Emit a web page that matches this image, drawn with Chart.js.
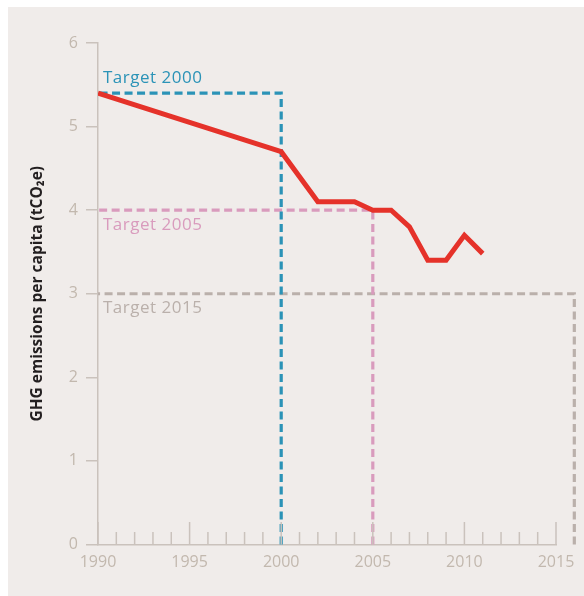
<!DOCTYPE html>
<html lang="en">
<head>
<meta charset="UTF-8">
<title>GHG emissions per capita</title>
<style>
  html, body { margin: 0; padding: 0; background: #fff; }
  #wrap { width: 584px; height: 596px; position: relative; }
</style>
</head>
<body>
<div id="wrap"><canvas id="ghgChart"></canvas></div>

<script src="https://cdn.jsdelivr.net/npm/chart.js"></script>
<script>
// data
const years = [1990, 2000, 2002, 2003, 2004, 2005, 2006, 2007, 2008, 2009, 2010, 2011];
const emissions = [5.4, 4.7, 4.1, 4.1, 4.1, 4.0, 4.0, 3.8, 3.4, 3.4, 3.7, 3.48];

const targetNames = ['Target 2000', 'Target 2005', 'Target 2015'];
const targetLevels = [5.4, 4.0, 3.0];
const targetYears = [2000, 2005, 2016];
const targetColors = ['#2b93b7', '#d99bbd', '#bab0ab'];

const xMin = 1990, xMax = 2015;
const yMin = 0, yMax = 6;

const axisColor = '#cac2bc';
const labelColor = '#c2b8ae';

Chart.defaults.font.family = "'Open Sans', sans-serif";

// panel background
const panelBg = {
    id: 'panelBg',
    beforeDraw(chart) {
        const c = chart.ctx;
        c.save();
        c.fillStyle = '#f0ecea';
        c.fillRect(8, 7, chart.width - 8, chart.height - 7);
        c.restore();
    }
};

// year ticks pointing up from the x axis
const yearTicks = {
    id: 'yearTicks',
    afterDraw(chart) {
        const c = chart.ctx, xs = chart.scales.x, bottom = chart.chartArea.bottom;
        c.save();
        c.strokeStyle = axisColor;
        c.lineWidth = 1.5;
        for (let yr = xMin; yr <= xMax; yr++) {
            const px = xs.getPixelForValue(yr);
            const len = yr % 5 === 0 ? 22.5 : 12.5;
            c.beginPath();
            c.moveTo(px, bottom);
            c.lineTo(px, bottom - len);
            c.stroke();
        }
        c.restore();
    }
};

// target names next to the dashed lines
const targetLabels = {
    id: 'targetLabels',
    afterDatasetsDraw(chart) {
        const c = chart.ctx, xs = chart.scales.x, ys = chart.scales.y;
        c.save();
        c.font = "17px 'Open Sans', sans-serif";
        c.letterSpacing = '0.5px';
        c.textAlign = 'left';
        c.textBaseline = 'alphabetic';
        for (let i = 0; i < targetNames.length; i++) {
            c.fillStyle = targetColors[i];
            const y = ys.getPixelForValue(targetLevels[i]) + (i === 0 ? -10.5 : 19.5);
            c.fillText(targetNames[i], xs.getPixelForValue(xMin) + 5, y);
        }
        c.restore();
    }
};

// points run from the foot of the drop line back to 1990,
// so the line controller does not cut the part past the axis max
const targetSets = targetNames.map((name, i) => ({
    label: name,
    data: [
        {x: targetYears[i], y: 0},
        {x: targetYears[i], y: targetLevels[i]},
        {x: xMin, y: targetLevels[i]}
    ],
    borderColor: targetColors[i],
    borderWidth: 3.2,
    borderDash: [8, 4.5],
    pointRadius: 0,
    clip: false,
    order: 2
}));

new Chart(document.getElementById('ghgChart'), {
    type: 'line',
    data: {
        datasets: [...targetSets, {
            label: 'GHG emissions per capita',
            data: years.map((x, i) => ({x: x, y: emissions[i]})),
            borderColor: '#e5322a',
            borderWidth: 5,
            pointRadius: 0,
            order: 1
        }]
    },
    options: {
        responsive: true,
        maintainAspectRatio: false,
        animation: false,
        layout: { padding: { top: 43, right: 28, bottom: 21.5, left: 0 } },
        plugins: { legend: { display: false }, tooltip: { enabled: false } },
        scales: {
            x: {
                type: 'linear',
                min: xMin, max: xMax,
                afterFit(scale) { scale.height = 30; },
                grid: { display: false, drawTicks: false },
                border: { display: true, color: axisColor, width: 1.5 },
                ticks: {
                    stepSize: 5,
                    color: labelColor,
                    padding: 8,
                    font: { size: 16 },
                    callback: v => String(v)
                }
            },
            y: {
                min: yMin, max: yMax,
                afterFit(scale) { scale.width = 98; },
                grid: { drawOnChartArea: false, drawTicks: true, tickLength: 12, color: axisColor, lineWidth: 1.5 },
                border: { display: true, color: axisColor, width: 1.5 },
                ticks: { stepSize: 1, color: labelColor, padding: 8, font: { size: 16 } },
                title: {
                    display: true,
                    text: 'GHG emissions per capita (tCO₂e)',
                    color: '#231f20',
                    font: { size: 15.5, weight: 'bold' },
                    padding: { top: 28, bottom: 0 }
                }
            }
        }
    },
    plugins: [panelBg, yearTicks, targetLabels]
});
</script>
</body>
</html>
